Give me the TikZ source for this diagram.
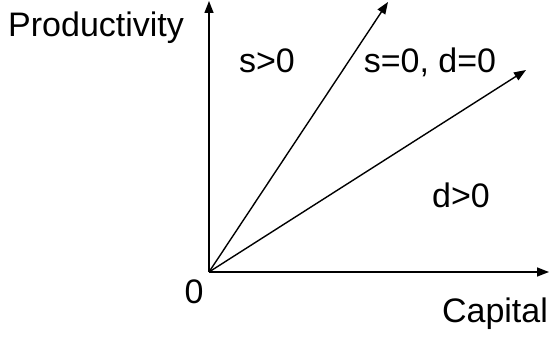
\documentclass[tikz,border=0pt]{standalone}
\usepackage{fontspec}
\setmainfont{Liberation Sans}
\usetikzlibrary{arrows.meta}
\begin{document}
\begin{tikzpicture}[x=1pt,y=-1pt,
  axis/.style={line width=1.4pt,-{Triangle[length=12pt,width=9pt]}},
  lbl/.style={inner sep=0pt,font=\fontsize{34}{40}\selectfont}]
\useasboundingbox (0,0) rectangle (549,337);
\coordinate (o) at (209,272);
\coordinate (ytip) at (209,1);
\coordinate (xtip) at (549,272);
\coordinate (r1) at (388,2);
\coordinate (r2) at (526,70);
\draw[axis] (o) -- (ytip);
\draw[axis] (o) -- (xtip);
\draw[axis] (o) -- (r1);
\draw[axis] (o) -- (r2);
\node[lbl,anchor=base west] (prod) at (8,37) {Productivity};
\node[lbl,anchor=base] (spos) at (267,73) {s>0};
\node[lbl,anchor=base] (szero) at (430,73) {s=0, d=0};
\node[lbl,anchor=base] (dpos) at (461,207) {d>0};
\node[lbl,anchor=base] (zero) at (194,303) {0};
\node[lbl,anchor=base] (cap) at (495,322) {Capital};
\end{tikzpicture}
\end{document}
